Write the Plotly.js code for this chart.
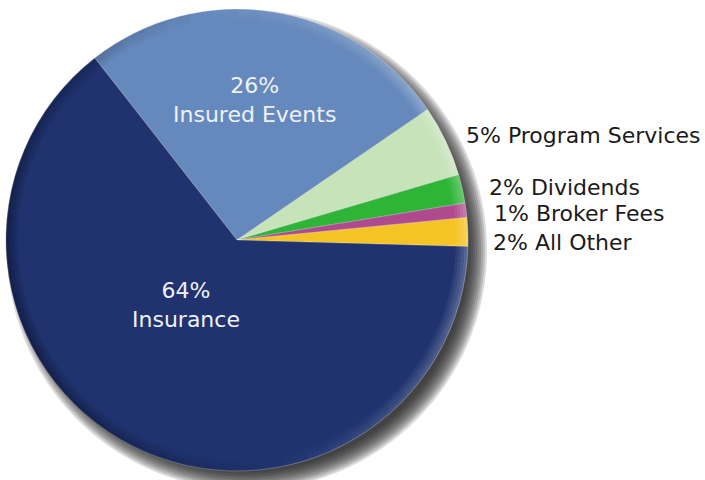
<!DOCTYPE html>
<html>
<head>
<meta charset="utf-8">
<script src="https://cdn.plot.ly/plotly-3.0.1.min.js"></script>
<style>html,body{margin:0;padding:0;background:#fff;}#chart{width:705px;height:480px;}</style>
</head>
<body>
<div id="chart"></div>
<script>
// Data
const categories = ["Insured Events", "Program Services", "Dividends", "Broker Fees", "All Other", "Insurance"];
const percents = [26, 5, 2, 1, 2, 64];
const colors = ["#6589BC", "#C6E3B9", "#2EB538", "#AF4A8F", "#F5C323", "#20336F"];

// label placement (layout only)
const insideIdx = [0, 5];
const insidePos = {0: [254, 100], 5: [186, 305]};
const outsidePos = {1: [464, 135], 2: [487, 187], 3: [492, 213], 4: [491, 242]};

const W = 705, H = 480;
const px = x => x / W, py = y => 1 - y / H;
const cx = 237, cy = 240, R = 231;

const annotations = [];
insideIdx.forEach(i => {
  const p = insidePos[i];
  annotations.push({
    xref: "paper", yref: "paper", x: px(p[0]), y: py(p[1]),
    xanchor: "center", yanchor: "middle", showarrow: false,
    text: percents[i] + "%<br>" + categories[i],
    font: {family: "DejaVu Sans, sans-serif", size: 22, color: "#EEF2F8"}
  });
});
Object.keys(outsidePos).forEach(k => {
  const i = +k, p = outsidePos[i];
  annotations.push({
    xref: "paper", yref: "paper", x: px(p[0]), y: py(p[1]),
    xanchor: "left", yanchor: "middle", showarrow: false,
    text: percents[i] + "% " + categories[i],
    font: {family: "DejaVu Sans, sans-serif", size: 22, color: "#1a1a1a"}
  });
});

const shapes = [];
// soft drop shadow behind the pie
const sdx = 10, sdy = 10;
for (let k = 0; k < 10; k++) {
  const r = R + 9 - k * 2;
  shapes.push({
    type: "circle", xref: "paper", yref: "paper", layer: "below",
    x0: px(cx + sdx - r), x1: px(cx + sdx + r),
    y0: py(cy + sdy + r), y1: py(cy + sdy - r),
    fillcolor: "rgba(30,30,30,0.16)", line: {width: 0}
  });
}

// rim shading (light from the right, dark on the left)
function ringPath(r1, r2, a0, a1) {
  const n = 6, pts = [];
  for (let j = 0; j <= n; j++) {
    const a = (a0 + (a1 - a0) * j / n) * Math.PI / 180;
    pts.push([cx + r2 * Math.sin(a), cy - r2 * Math.cos(a)]);
  }
  for (let j = n; j >= 0; j--) {
    const a = (a0 + (a1 - a0) * j / n) * Math.PI / 180;
    pts.push([cx + r1 * Math.sin(a), cy - r1 * Math.cos(a)]);
  }
  return "M" + pts.map(p => px(p[0]).toFixed(5) + "," + py(p[1]).toFixed(5)).join("L") + "Z";
}
const lightDir = 80, step = 6, bands = 4, bw = 3;
for (let a = 0; a < 360; a += step) {
  const mid = a + step / 2;
  const c = Math.cos((mid - lightDir) * Math.PI / 180);
  for (let b = 0; b < bands; b++) {
    const r2 = R - b * bw, r1 = r2 - bw;
    const fall = (bands - b) / bands;
    const alpha = Math.abs(c) * fall * (c > 0 ? 0.24 : 0.34);
    if (alpha < 0.01) continue;
    shapes.push({
      type: "path", xref: "paper", yref: "paper", layer: "above",
      path: ringPath(r1, r2 + 0.3, a, a + step + 0.05),
      fillcolor: c > 0 ? "rgba(255,255,255," + alpha.toFixed(3) + ")" : "rgba(0,0,10," + alpha.toFixed(3) + ")",
      line: {width: 0}
    });
  }
}

const trace = {
  type: "pie",
  labels: categories,
  values: percents,
  sort: false,
  direction: "clockwise",
  rotation: -38,
  textinfo: "none",
  hoverinfo: "label+percent",
  marker: {colors: colors, line: {color: "rgba(255,255,255,0.45)", width: 0.6}},
  domain: {x: [px(cx - R), px(cx + R)], y: [py(cy + R), py(cy - R)]},
  showlegend: false
};

Plotly.newPlot("chart", [trace], {
  width: W, height: H,
  margin: {l: 0, r: 0, t: 0, b: 0},
  paper_bgcolor: "#ffffff",
  showlegend: false,
  annotations: annotations,
  shapes: shapes
}, {staticPlot: true});
</script>
</body>
</html>
